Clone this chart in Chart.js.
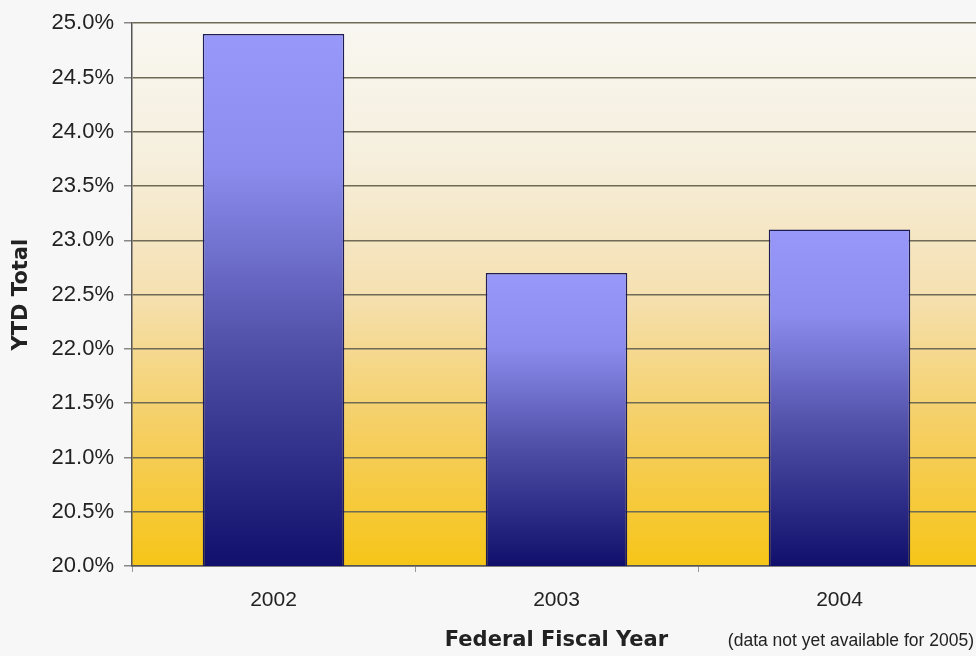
<!DOCTYPE html>
<html>
<head>
<meta charset="utf-8">
<script src="https://cdn.jsdelivr.net/npm/chart.js@4/dist/chart.umd.min.js"></script>
<style>
  html, body { margin: 0; padding: 0; background: #f7f7f7; overflow: hidden; }
  #wrap { position: relative; width: 985px; height: 656px; }
</style>
</head>
<body>
<div id="wrap"><canvas id="chart"></canvas></div>
<script>
const years = ['2002', '2003', '2004'];
const ytdTotals = [24.9, 22.7, 23.1];
const yMin = 20.0;
const yMax = 25.0;
const yStep = 0.5;
const footNote = '(data not yet available for 2005)';

// cream-to-gold fill behind the plot area
const plotBackground = {
    id: 'plotBackground',
    beforeDraw(chart) {
        const { ctx, chartArea: a } = chart;
        const g = ctx.createLinearGradient(0, a.top, 0, a.bottom);
        g.addColorStop(0, '#f8f7f1');
        g.addColorStop(0.25, '#f6efdd');
        g.addColorStop(0.5, '#f5e0b0');
        g.addColorStop(0.75, '#f5cf62');
        g.addColorStop(1, '#f6c518');
        ctx.save();
        ctx.fillStyle = g;
        ctx.fillRect(a.left, a.top, a.right - a.left, a.bottom - a.top);
        ctx.restore();
    }
};

const noteText = {
    id: 'noteText',
    afterDraw(chart) {
        const { ctx } = chart;
        ctx.save();
        ctx.font = '17.5px "Liberation Sans", Arial, sans-serif';
        ctx.fillStyle = '#222';
        ctx.textAlign = 'right';
        ctx.textBaseline = 'middle';
        ctx.fillText(footNote, 974, 641);
        ctx.restore();
    }
};

// each bar fades from periwinkle at its top to navy at the base
function barFill(context) {
    const chart = context.chart;
    const y = chart.scales.y;
    if (!y || !chart.chartArea) return '#6a6ad0';
    const top = y.getPixelForValue(context.raw);
    const bottom = y.getPixelForValue(yMin);
    const g = chart.ctx.createLinearGradient(0, top, 0, bottom);
    g.addColorStop(0, '#9898fa');
    g.addColorStop(0.25, '#8c8cee');
    g.addColorStop(0.6, '#4e4ea6');
    g.addColorStop(1, '#10106c');
    return g;
}

new Chart(document.getElementById('chart'), {
    type: 'bar',
    data: {
        labels: years,
        datasets: [{
            data: ytdTotals,
            backgroundColor: barFill,
            borderColor: '#1d1d55',
            borderWidth: 1.5,
            borderSkipped: 'bottom',
            barPercentage: 0.5,
            categoryPercentage: 1.0
        }]
    },
    options: {
        responsive: true,
        maintainAspectRatio: false,
        animation: false,
        layout: { padding: { top: 21, right: 4, left: 0, bottom: 0 } },
        plugins: {
            legend: { display: false },
            tooltip: { enabled: false }
        },
        scales: {
            x: {
                afterFit(scale) { scale.height = 90; },
                grid: {
                    drawOnChartArea: false,
                    tickLength: 6,
                    tickColor: '#999',
                    offset: true
                },
                border: { color: '#555', width: 1.5 },
                ticks: {
                    color: '#222',
                    padding: 16,
                    font: { family: '"Liberation Sans", Arial, sans-serif', size: 21 }
                },
                title: {
                    display: true,
                    text: 'Federal Fiscal Year',
                    color: '#222',
                    padding: { bottom: 3 },
                    font: { family: '"DejaVu Sans", Verdana, sans-serif', size: 21, weight: 'bold' }
                }
            },
            y: {
                min: yMin,
                max: yMax,
                afterFit(scale) { scale.width = 132; },
                grid: {
                    color: '#6f6a55',
                    lineWidth: 1.5,
                    tickLength: 8,
                    tickColor: '#888'
                },
                border: { color: '#555', width: 1.5 },
                ticks: {
                    stepSize: yStep,
                    color: '#222',
                    padding: 10,
                    font: { family: '"Liberation Sans", Arial, sans-serif', size: 22 },
                    callback: v => v.toFixed(1) + '%'
                },
                title: {
                    display: true,
                    text: 'YTD Total',
                    color: '#222',
                    padding: { top: 9 },
                    font: { family: '"DejaVu Sans", Verdana, sans-serif', size: 21, weight: 'bold' }
                }
            }
        }
    },
    plugins: [plotBackground, noteText]
});
</script>
</body>
</html>
